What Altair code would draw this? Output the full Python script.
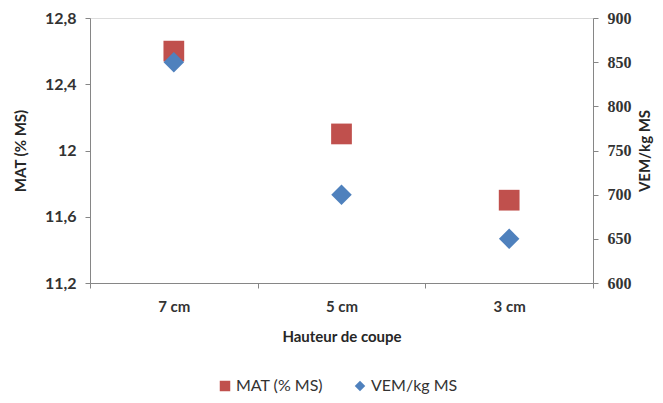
import altair as alt
import pandas as pd

cats = ["7 cm", "5 cm", "3 cm"]
mat = [12.6, 12.1, 11.7]
vem = [850, 700, 650]
mat_ticks = [11.2, 11.6, 12.0, 12.4, 12.8]
vem_ticks = [600, 650, 700, 750, 800, 850, 900]
series = ["MAT (% MS)", "VEM/kg MS"]
colors = ["#C0504D", "#4F81BD"]
shapes = ["square", "diamond"]

df_mat = pd.DataFrame({"cat": cats, "val": mat, "s": series[0]})
df_vem = pd.DataFrame({"cat": cats, "val": vem, "s": series[1]})

AX = "#868686"
LAB = "#333333"
FONT = "Lato"

x = alt.X(
    "cat:N",
    sort=cats,
    scale=alt.Scale(type="band", paddingInner=0, paddingOuter=0),
    axis=alt.Axis(
        title="Hauteur de coupe", labelAngle=0, tickBand="extent",
        domainColor=AX, tickColor=AX, tickSize=5, labelColor=LAB,
        labelFont=FONT, labelFontSize=15, labelFontWeight="bold",
        labelPadding=11, titleFont=FONT, titleFontSize=15, titleFontWeight="bold",
        titleColor="#262626", titlePadding=15,
    ),
)

leg = alt.Legend(
    title=None, orient="none", direction="horizontal",
    legendX=127, legendY=360, labelFont=FONT, labelFontSize=16,
    labelColor=LAB, symbolSize=110, columnPadding=28, labelOffset=3,
    symbolStrokeWidth=0,
)
color = alt.Color("s:N", scale=alt.Scale(domain=series, range=colors), legend=leg)
shape = alt.Shape("s:N", scale=alt.Scale(domain=series, range=shapes), legend=leg)

left = alt.Chart(df_mat).mark_point(filled=True, size=430, opacity=1).encode(
    x=x,
    y=alt.Y(
        "val:Q",
        scale=alt.Scale(domain=[11.2, 12.8], nice=False, zero=False),
        axis=alt.Axis(
            title="MAT (% MS)", orient="left", values=mat_ticks, grid=False,
            labelExpr="replace(toString(datum.value), '.', ',')",
            domainColor=AX, tickColor=AX, tickSize=5, labelColor=LAB,
            labelFont=FONT, labelFontSize=16, labelFontWeight="bold",
            labelPadding=9, titleFont=FONT, titleFontSize=15,
            titleFontWeight="bold", titleColor="#262626", titlePadding=16,
        ),
    ),
    color=color,
    shape=shape,
)

right = alt.Chart(df_vem).mark_point(filled=True, size=420, opacity=1).encode(
    x=x,
    y=alt.Y(
        "val:Q",
        scale=alt.Scale(domain=[600, 900], nice=False, zero=False),
        axis=alt.Axis(
            title="VEM/kg MS", orient="right", values=vem_ticks, grid=False,
            domainColor=AX, tickColor=AX, tickSize=5, labelColor=LAB,
            labelFont="Liberation Serif", labelFontSize=16, labelFontWeight="bold",
            labelPadding=9, titleFont=FONT, titleFontSize=15, titleAngle=270,
            titleFontWeight="bold", titleColor="#262626", titlePadding=21,
        ),
    ),
    color=color,
    shape=shape,
)

chart = alt.layer(left, right).resolve_scale(y="independent").properties(
    width=503, height=265,
    autosize=alt.AutoSizeParams(type="none"),
    padding={"left": 82, "top": 10, "right": 62, "bottom": 112},
).configure_view(stroke=None).configure(background="white")

chart.save("out.html", embed_options={"renderer": "svg", "actions": False})
